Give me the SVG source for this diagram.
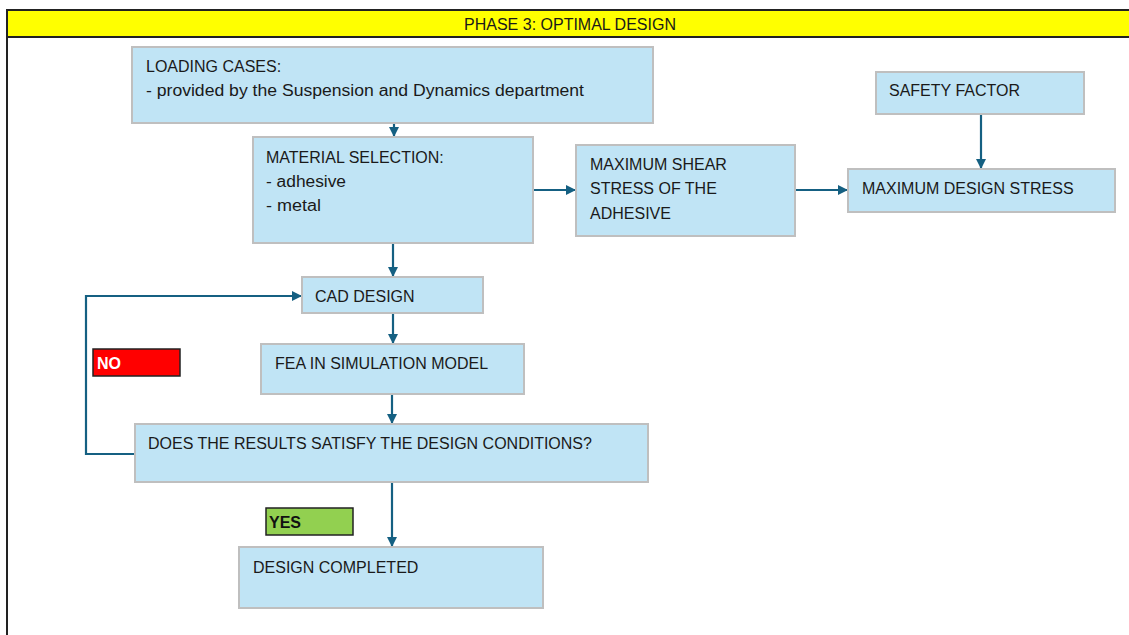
<svg xmlns="http://www.w3.org/2000/svg" width="1129" height="635" viewBox="0 0 1129 635">
<defs>
<marker id="ah" viewBox="0 0 10 10" refX="10" refY="5" markerWidth="4.6" markerHeight="4.6" orient="auto" markerUnits="strokeWidth">
<path d="M0,0 L10,5 L0,10 Z" fill="#156082"/>
</marker>
</defs>
<style>
.box{fill:#C0E4F5;stroke:#BFBFBF;stroke-width:2}
.t{font-family:"Liberation Sans",Arial,sans-serif;font-size:16px;fill:#1a1a1a}
.c{fill:none;stroke:#156082;stroke-width:2.2}
.lbl{font-family:"Liberation Sans",Arial,sans-serif;font-size:16px;font-weight:bold}
</style>
<rect x="0" y="0" width="1129" height="635" fill="#ffffff"/>
<g id="header">
<rect x="7" y="10" width="1122" height="27" fill="#FFFF00"/>
<line x1="7" y1="10" x2="1129" y2="10" stroke="#222" stroke-width="2"/>
<line x1="7" y1="37" x2="1129" y2="37" stroke="#222" stroke-width="2"/>
<line x1="7" y1="9" x2="7" y2="635" stroke="#222" stroke-width="2"/>
<text class="t" x="570" y="30" text-anchor="middle">PHASE 3: OPTIMAL DESIGN</text>
</g>
<g id="connectors">
<line class="c" x1="394" y1="123" x2="394" y2="137" marker-end="url(#ah)"/>
<line class="c" x1="533" y1="190" x2="576" y2="190" marker-end="url(#ah)"/>
<line class="c" x1="795" y1="190" x2="848" y2="190" marker-end="url(#ah)"/>
<line class="c" x1="981" y1="114" x2="981" y2="169" marker-end="url(#ah)"/>
<line class="c" x1="393" y1="243" x2="393" y2="277" marker-end="url(#ah)"/>
<line class="c" x1="393" y1="313" x2="393" y2="344" marker-end="url(#ah)"/>
<line class="c" x1="392" y1="394" x2="392" y2="424" marker-end="url(#ah)"/>
<line class="c" x1="392" y1="482" x2="392" y2="547" marker-end="url(#ah)"/>
<polyline class="c" points="135,454 86,454 86,296 302,296" marker-end="url(#ah)"/>
</g>
<g id="loading">
<rect class="box" x="132" y="47" width="521" height="76"/>
<text class="t" x="146" y="72">LOADING CASES:</text>
<text class="t" x="146" y="96" textLength="438" lengthAdjust="spacingAndGlyphs">- provided by the Suspension and Dynamics department</text>
</g>
<g id="material">
<rect class="box" x="253" y="137" width="280" height="106"/>
<text class="t" x="266" y="163">MATERIAL SELECTION:</text>
<text class="t" x="266" y="187" textLength="80" lengthAdjust="spacingAndGlyphs">- adhesive</text>
<text class="t" x="266" y="211" textLength="55" lengthAdjust="spacingAndGlyphs">- metal</text>
</g>
<g id="shear">
<rect class="box" x="576" y="145" width="219" height="91"/>
<text class="t" x="590" y="170">MAXIMUM SHEAR</text>
<text class="t" x="590" y="194">STRESS OF THE</text>
<text class="t" x="590" y="219">ADHESIVE</text>
</g>
<g id="safety">
<rect class="box" x="876" y="72" width="208" height="42"/>
<text class="t" x="889" y="96">SAFETY FACTOR</text>
</g>
<g id="design-stress">
<rect class="box" x="848" y="169" width="267" height="43"/>
<text class="t" x="862" y="194">MAXIMUM DESIGN STRESS</text>
</g>
<g id="cad">
<rect class="box" x="302" y="277" width="181" height="36"/>
<text class="t" x="315" y="302">CAD DESIGN</text>
</g>
<g id="fea">
<rect class="box" x="261" y="344" width="263" height="50"/>
<text class="t" x="275" y="369">FEA IN SIMULATION MODEL</text>
</g>
<g id="check">
<rect class="box" x="135" y="424" width="513" height="58"/>
<text class="t" x="148" y="449">DOES THE RESULTS SATISFY THE DESIGN CONDITIONS?</text>
</g>
<g id="completed">
<rect class="box" x="239" y="547" width="304" height="61"/>
<text class="t" x="253" y="573">DESIGN COMPLETED</text>
</g>
<g id="no-label">
<rect x="93" y="349" width="87" height="27" fill="#FF0000" stroke="#222" stroke-width="1.5"/>
<text class="lbl" x="97" y="369" fill="#ffffff">NO</text>
</g>
<g id="yes-label">
<rect x="266" y="508" width="87" height="27" fill="#92D050" stroke="#222" stroke-width="1.5"/>
<text class="lbl" x="269" y="528" fill="#111111">YES</text>
</g>
</svg>
